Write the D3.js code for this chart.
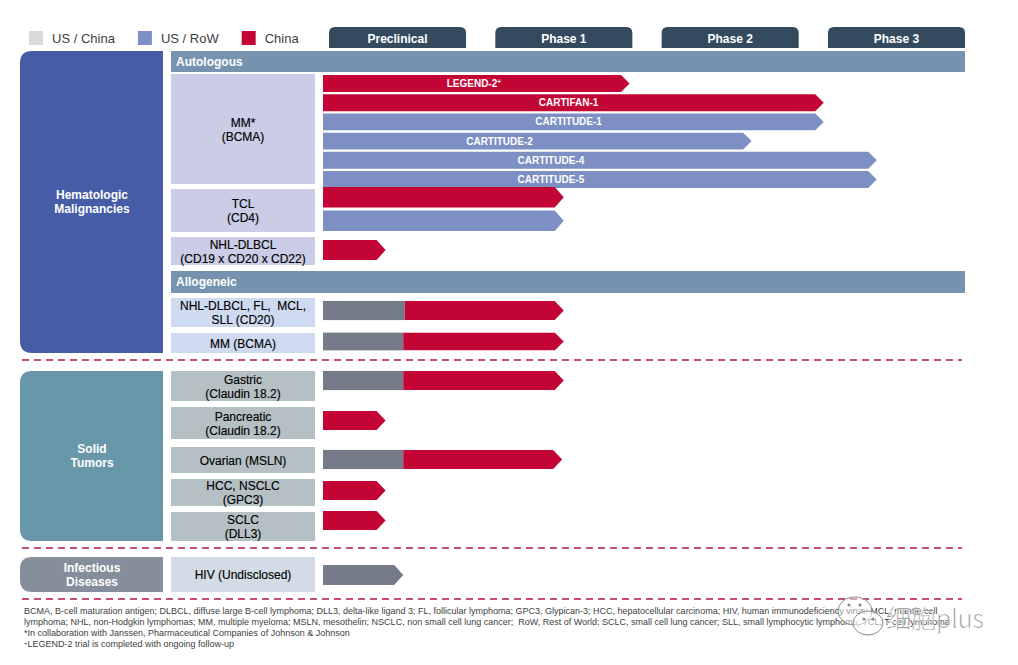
<!DOCTYPE html>
<html>
<head>
<meta charset="utf-8">
<script src="https://cdn.jsdelivr.net/npm/d3@7"></script>
<style>
  html, body { margin: 0; padding: 0; background: #fff; }
  svg { display: block; font-family: "Liberation Sans", Arial, sans-serif; }
</style>
</head>
<body>
<svg id="chart" width="1018" height="665"></svg>
<script>
// ---------------- DATA ----------------
const legendLabels = ["US / China", "US / RoW", "China"];
const phases = ["Preclinical", "Phase 1", "Phase 2", "Phase 3"];
const areaNames = [["Hematologic", "Malignancies"], ["Solid", "Tumors"], ["Infectious", "Diseases"]];
const platformNames = ["Autologous", "Allogeneic"];
const indicationLines = [
  ["MM*", "(BCMA)"],
  ["TCL", "(CD4)"],
  ["NHL-DLBCL", "(CD19 x CD20 x CD22)"],
  ["NHL-DLBCL, FL,  MCL,", "SLL (CD20)"],
  ["MM (BCMA)"],
  ["Gastric", "(Claudin 18.2)"],
  ["Pancreatic", "(Claudin 18.2)"],
  ["Ovarian (MSLN)"],
  ["HCC, NSCLC", "(GPC3)"],
  ["SCLC", "(DLL3)"],
  ["HIV (Undisclosed)"]
];
const indicationArea = [0, 0, 0, 0, 0, 1, 1, 1, 1, 1, 2];
// bars (progress measured in phases: 0 = start of preclinical, 4 = end of phase 3)
const barIndication = [0, 0, 0, 0, 0, 0, 1, 1, 2, 3, 4, 5, 6, 7, 8, 9, 10];
const barTrial = ["LEGEND-2", "CARTIFAN-1", "CARTITUDE-1", "CARTITUDE-2", "CARTITUDE-4", "CARTITUDE-5",
  "", "", "", "", "", "", "", "", "", "", ""];
const barNote = ["+", "", "", "", "", "", "", "", "", "", "", "", "", "", "", "", ""];
const barRegion = ["China", "China", "US / RoW", "US / RoW", "US / RoW", "US / RoW",
  "China", "US / RoW", "China", "China", "China", "China", "China", "China", "China", "China", "US / China"];
const barUSChinaEnd = [0, 0, 0, 0, 0, 0, 0, 0, 0, 0.51, 0.50, 0.50, 0, 0.50, 0, 0, 0.50];
const barEnd = [1.91, 3.12, 3.12, 2.67, 3.45, 3.45, 1.50, 1.50, 0.39, 1.50, 1.50, 1.50, 0.39, 1.49, 0.39, 0.39, 0.50];
const barLabelAt = [0.94, 1.53, 1.53, 1.10, 1.42, 1.42, 0, 0, 0, 0, 0, 0, 0, 0, 0, 0, 0];
const footnotes = [
  "BCMA, B-cell maturation antigen; DLBCL, diffuse large B-cell lymphoma; DLL3, delta-like ligand 3; FL, follicular lymphoma; GPC3, Glypican-3; HCC, hepatocellular carcinoma; HIV, human immunodeficiency virus; MCL, mantle cell",
  "lymphoma; NHL, non-Hodgkin lymphomas; MM, multiple myeloma; MSLN, mesothelin; NSCLC, non small cell lung cancer;  RoW, Rest of World; SCLC, small cell lung cancer; SLL, small lymphocytic lymphoma; TCL, T-cell lymphoma",
  "*In collaboration with Janssen, Pharmaceutical Companies of Johnson & Johnson",
  "LEGEND-2 trial is completed with ongoing follow-up"
];

// ---------------- LAYOUT / STYLE ----------------
const colors = {
  legend: { "US / China": "#d9d9d9", "US / RoW": "#7d8fc3", "China": "#c20535" },
  bar: { "US / China": "#767b8a", "US / RoW": "#7d8fc3", "China": "#c20535" },
  tab: "#344a5f",
  area: ["#465ca6", "#6897a9", "#858f9b"],
  platform: "#7593af",
  indication: ["#cbcce6", "#cbcce6", "#cbcce6", "#cddaf0", "#cddaf0", "#b5c0c4", "#b5c0c4", "#b5c0c4", "#b5c0c4", "#b5c0c4", "#d3dce6"],
  dash: "#c2506f"
};
const areaY = [[51, 353], [371, 541], [557, 592]];
const platformY = [[51, 72], [271, 293]];
const indicationY = [[74, 184], [189, 232], [237, 265], [298, 327], [333, 353],
  [371, 401], [407, 439], [447, 473], [479, 506], [512, 541], [557, 592]];
const barBandY = [[75, 188], [187, 231], [236, 264], [297, 324], [329, 354],
  [367, 394], [407, 434], [446, 473], [477, 504], [507, 534], [561, 589]];
const dashY = [360, 548, 599];

const svg = d3.select("#chart");
const x = d3.scaleLinear().domain([0, 4]).range([323, 965]);
const tabX = d3.scaleBand().domain(phases).range([329, 965]).paddingInner(0.176).paddingOuter(0);

// ---------------- LEGEND ----------------
let lx = 29;
legendLabels.forEach(l => {
  svg.append("rect").attr("x", lx).attr("y", 31).attr("width", 14).attr("height", 14)
    .attr("fill", colors.legend[l]);
  const t = svg.append("text").attr("x", lx + 23).attr("y", 43)
    .attr("font-size", 13).attr("fill", "#404040").text(l);
  lx += 23 + t.node().getComputedTextLength() + 23;
});

// ---------------- PHASE TABS ----------------
function topRounded(x0, y0, w, h, r) {
  return `M${x0},${y0 + h} L${x0},${y0 + r} Q${x0},${y0} ${x0 + r},${y0} L${x0 + w - r},${y0} Q${x0 + w},${y0} ${x0 + w},${y0 + r} L${x0 + w},${y0 + h} Z`;
}
phases.forEach(p => {
  svg.append("path").attr("d", topRounded(tabX(p), 27, tabX.bandwidth(), 21, 6)).attr("fill", colors.tab);
  svg.append("text").attr("x", tabX(p) + tabX.bandwidth() / 2).attr("y", 43)
    .attr("text-anchor", "middle").attr("font-size", 12).attr("font-weight", "bold")
    .attr("fill", "#fff").text(p);
});

// ---------------- AREAS (left boxes) ----------------
function leftRounded(x0, y0, w, h, r) {
  return `M${x0 + w},${y0} L${x0 + r},${y0} Q${x0},${y0} ${x0},${y0 + r} L${x0},${y0 + h - r} Q${x0},${y0 + h} ${x0 + r},${y0 + h} L${x0 + w},${y0 + h} Z`;
}
areaNames.forEach((lines, i) => {
  const [y0, y1] = areaY[i];
  svg.append("path").attr("d", leftRounded(20, y0, 143, y1 - y0, 12)).attr("fill", colors.area[i]);
  const cy = (y0 + y1) / 2;
  lines.forEach((ln, j) => {
    svg.append("text").attr("x", 92).attr("y", cy + 4 + (j - (lines.length - 1) / 2) * 14)
      .attr("text-anchor", "middle").attr("font-size", 12).attr("font-weight", "bold")
      .attr("fill", "#fff").text(ln);
  });
});

// ---------------- PLATFORM HEADERS ----------------
platformNames.forEach((p, i) => {
  const [y0, y1] = platformY[i];
  svg.append("rect").attr("x", 171).attr("y", y0).attr("width", 965 - 171).attr("height", y1 - y0)
    .attr("fill", colors.platform);
  svg.append("text").attr("x", 176).attr("y", y0 + 15).attr("font-size", 12)
    .attr("font-weight", "bold").attr("fill", "#fff").text(p);
});

// ---------------- INDICATION BOXES ----------------
indicationLines.forEach((lines, i) => {
  const [y0, y1] = indicationY[i];
  svg.append("rect").attr("x", 171).attr("y", y0).attr("width", 144).attr("height", y1 - y0)
    .attr("fill", colors.indication[i]);
  const cy = (y0 + y1) / 2;
  lines.forEach((ln, j) => {
    svg.append("text").attr("x", 243).attr("y", cy + 4.5 + (j - (lines.length - 1) / 2) * 14)
      .attr("text-anchor", "middle").attr("font-size", 12).attr("fill", "#000")
      .attr("stroke", "#000").attr("stroke-width", 0.15)
      .attr("xml:space", "preserve").style("white-space", "pre").text(ln);
  });
});

// ---------------- BARS ----------------
const barIdx = barEnd.map((_, i) => i);
const yScales = indicationLines.map((_, k) => {
  const ids = barIdx.filter(i => barIndication[i] === k);
  return d3.scaleBand().domain(ids).range(barBandY[k])
    .paddingInner(0.12).paddingOuter(ids.length > 1 ? 0 : 0.18);
});
function arrow(x0, tip, y0, h) {
  const head = Math.min(9, h * 0.5);
  return `M${x0},${y0} L${tip - head},${y0} L${tip},${y0 + h / 2} L${tip - head},${y0 + h} L${x0},${y0 + h} Z`;
}
barIdx.forEach(i => {
  const ys = yScales[barIndication[i]];
  const y0 = ys(i), h = ys.bandwidth();
  const tip = x(barEnd[i]);
  if (barUSChinaEnd[i] > 0 && barRegion[i] !== "US / China") {
    const xg = x(barUSChinaEnd[i]);
    svg.append("rect").attr("x", x(0)).attr("y", y0).attr("width", xg - x(0)).attr("height", h)
      .attr("fill", colors.bar["US / China"]);
    svg.append("path").attr("d", arrow(xg, tip, y0, h)).attr("fill", colors.bar[barRegion[i]]);
  } else {
    svg.append("path").attr("d", arrow(x(0), tip, y0, h)).attr("fill", colors.bar[barRegion[i]]);
  }
  if (barTrial[i]) {
    const t = svg.append("text").attr("x", x(barLabelAt[i])).attr("y", y0 + h / 2 + 3.6)
      .attr("text-anchor", "middle").attr("font-size", 10).attr("font-weight", "bold")
      .attr("fill", "#fff").text(barTrial[i]);
    if (barNote[i]) t.append("tspan").attr("font-size", 6.5).attr("dy", -3).text(barNote[i]);
  }
});

// ---------------- DASHED SEPARATORS ----------------
dashY.forEach(y => {
  svg.append("line").attr("x1", 22).attr("x2", 962).attr("y1", y).attr("y2", y)
    .attr("stroke", colors.dash).attr("stroke-width", 2).attr("stroke-dasharray", "7,5");
});

// ---------------- FOOTNOTES ----------------
footnotes.forEach((f, i) => {
  const t = svg.append("text").attr("x", 24).attr("y", 614 + i * 11).attr("font-size", 9)
    .attr("fill", "#404040").attr("xml:space", "preserve").style("white-space", "pre");
  if (i === 3) {
    t.append("tspan").attr("font-size", 6).attr("dy", -2).text("+");
    t.append("tspan").attr("dy", 2).text(f);
  } else t.text(f);
});

// ---------------- WATERMARK ----------------
const wm = svg.append("g");
wm.append("ellipse").attr("cx", 855).attr("cy", 611).attr("rx", 17).attr("ry", 14)
  .attr("fill", "#fff").attr("fill-opacity", 0.45).attr("stroke", "#8a8a8a").attr("stroke-width", 1);
wm.append("ellipse").attr("cx", 868).attr("cy", 623).attr("rx", 15).attr("ry", 12)
  .attr("fill", "#fff").attr("fill-opacity", 0.55).attr("stroke", "#8a8a8a").attr("stroke-width", 1);
[[849, 605], [860, 605], [864, 619], [873, 619]].forEach(([cx, cy]) => {
  wm.append("circle").attr("cx", cx).attr("cy", cy).attr("r", 1.6).attr("fill", "#8a8a8a");
});
wm.append("text").attr("x", 886).attr("y", 628).attr("font-size", 25)
  .attr("font-family", "'Noto Sans CJK SC', sans-serif").attr("font-weight", 300)
  .attr("fill", "#7a7a7a").attr("stroke", "#fff").attr("stroke-width", 0.5)
  .text("细胞plus");
</script>
</body>
</html>
